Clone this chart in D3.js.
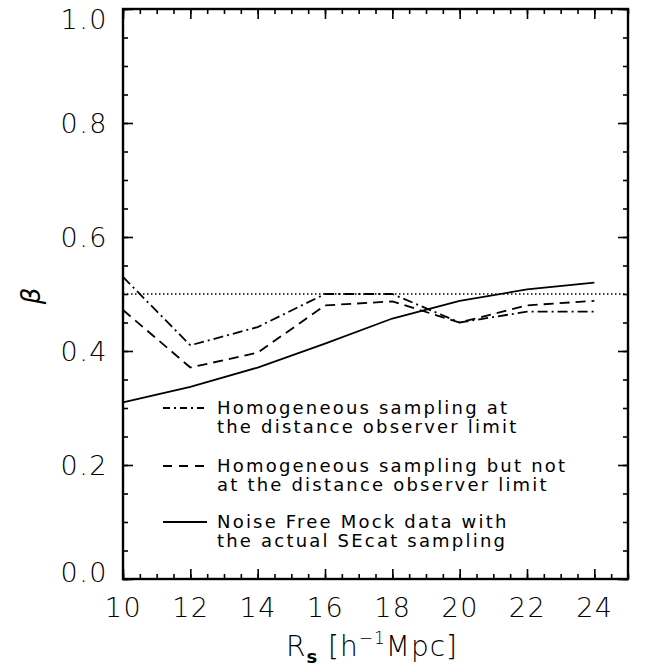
<!DOCTYPE html>
<html>
<head>
<meta charset="utf-8">
<script src="https://cdn.jsdelivr.net/npm/d3@7"></script>
<style>
  html, body { margin: 0; padding: 0; background: #fff; }
  svg { display: block; }
  text { font-family: "DejaVu Sans", "Liberation Sans", sans-serif; fill: #000; }
</style>
</head>
<body>
<svg id="chart" width="648" height="672"></svg>
<script>
// ---- data ----
const radii = [10, 12, 14, 16, 18, 20, 22, 24];
const distantObserver = [0.53, 0.41, 0.442, 0.50, 0.50, 0.45, 0.469, 0.469];
const notDistantObserver = [0.472, 0.371, 0.397, 0.48, 0.487, 0.45, 0.48, 0.488];
const noiseFreeMock = [0.31, 0.337, 0.371, 0.413, 0.457, 0.488, 0.508, 0.52];
const referenceBeta = 0.5;
const xTickValues = [10, 12, 14, 16, 18, 20, 22, 24];
const yTickValues = [0.0, 0.2, 0.4, 0.6, 0.8, 1.0];
const legendLabels = [
  ["Homogeneous sampling at", "the distance observer limit"],
  ["Homogeneous sampling but not", "at the distance observer limit"],
  ["Noise Free Mock data with", "the actual SEcat sampling"]
];

const svg = d3.select("#chart");
const L = 123, R = 628, T = 9, B = 579;
const x = d3.scaleLinear().domain([10, 25]).range([L, R]);
const y = d3.scaleLinear().domain([0, 1]).range([B, T]);

const minorX = d3.range(10, 25.001, 0.5);
const minorY = d3.range(0, 1.0001, 0.05);

function styleAxis(g) {
  g.select(".domain").remove();
  g.selectAll(".tick line").attr("stroke", "#000").attr("stroke-width", 1.6);
}

// minor ticks
svg.append("g").attr("transform", `translate(0,${B})`)
  .call(d3.axisBottom(x).tickValues(minorX).tickSize(-5).tickFormat(""))
  .call(styleAxis);
svg.append("g").attr("transform", `translate(0,${T})`)
  .call(d3.axisTop(x).tickValues(minorX).tickSize(-5).tickFormat(""))
  .call(styleAxis);
svg.append("g").attr("transform", `translate(${L},0)`)
  .call(d3.axisLeft(y).tickValues(minorY).tickSize(-5).tickFormat(""))
  .call(styleAxis);
svg.append("g").attr("transform", `translate(${R},0)`)
  .call(d3.axisRight(y).tickValues(minorY).tickSize(-5).tickFormat(""))
  .call(styleAxis);

// major ticks
const xb = svg.append("g").attr("transform", `translate(0,${B})`)
  .call(d3.axisBottom(x).tickValues(xTickValues).tickSize(-10).tickPadding(19).tickFormat(d3.format("d")))
  .call(styleAxis);
xb.selectAll("text").attr("font-size", 27).attr("font-weight", 300).attr("letter-spacing", 1.5);
svg.append("g").attr("transform", `translate(0,${T})`)
  .call(d3.axisTop(x).tickValues(xTickValues).tickSize(-10).tickFormat(""))
  .call(styleAxis);
const yl = svg.append("g").attr("transform", `translate(${L},0)`)
  .call(d3.axisLeft(y).tickValues(yTickValues).tickSize(-10).tickPadding(15).tickFormat(d3.format(".1f")))
  .call(styleAxis);
yl.selectAll("text").attr("font-size", 27).attr("font-weight", 300).attr("letter-spacing", 1.5)
  .attr("dy", d => d === 1 ? "0.72em" : (d === 0 ? "0.1em" : "0.35em"));
svg.append("g").attr("transform", `translate(${R},0)`)
  .call(d3.axisRight(y).tickValues(yTickValues).tickSize(-10).tickFormat(""))
  .call(styleAxis);

// frame
svg.append("rect").attr("x", L).attr("y", T).attr("width", R - L).attr("height", B - T)
  .attr("fill", "none").attr("stroke", "#000").attr("stroke-width", 2.4);

// reference dotted line
svg.append("line")
  .attr("x1", x(10)).attr("x2", x(25)).attr("y1", y(referenceBeta)).attr("y2", y(referenceBeta))
  .attr("stroke", "#000").attr("stroke-width", 1.4).attr("stroke-dasharray", "1.5,2.5");

const line = d3.line().x(d => x(d[0])).y(d => y(d[1]));
const seriesList = [
  { values: distantObserver, dash: "10,4,2,4" },
  { values: notDistantObserver, dash: "10,6" },
  { values: noiseFreeMock, dash: null }
];
seriesList.forEach(s => {
  svg.append("path")
    .datum(radii.map((r, i) => [r, s.values[i]]))
    .attr("d", line)
    .attr("fill", "none").attr("stroke", "#000").attr("stroke-width", 1.8)
    .attr("stroke-dasharray", s.dash);
});

// legend
const legendY = [408, 466, 522];
seriesList.forEach((s, i) => {
  svg.append("line").attr("x1", 163).attr("x2", 207)
    .attr("y1", legendY[i]).attr("y2", legendY[i])
    .attr("stroke", "#000").attr("stroke-width", 1.8)
    .attr("stroke-dasharray", i === 0 ? "7,4,2,4" : (i === 1 ? "9,7" : null));
  legendLabels[i].forEach((t, j) => {
    svg.append("text").attr("x", 217).attr("y", legendY[i] + j * 19)
      .attr("dy", "0.35em").attr("font-size", 18).attr("letter-spacing", 2.2)
      .text(t);
  });
});

// axis titles
const xt = svg.append("text").attr("x", 372).attr("y", 656).attr("text-anchor", "middle")
  .attr("font-size", 28).attr("font-weight", 300).attr("letter-spacing", 1);
xt.append("tspan").text("R");
xt.append("tspan").attr("font-size", 18).attr("dy", 7).attr("font-weight", "bold").text("s");
xt.append("tspan").attr("dy", -7).text(" [h");
xt.append("tspan").attr("font-size", 17).attr("dy", -12).text("−1");
xt.append("tspan").attr("dy", 12).text("Mpc]");

svg.append("text").attr("transform", "translate(40,296) rotate(-90)")
  .attr("text-anchor", "middle").attr("font-size", 26).attr("font-style", "italic")
  .text("β");
</script>
</body>
</html>
